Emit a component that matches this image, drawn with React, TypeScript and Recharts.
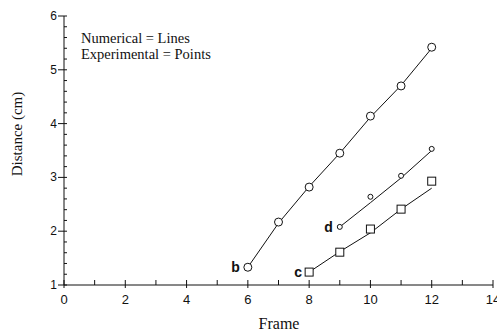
import { ComposedChart, Line, XAxis, YAxis, Label } from "recharts";

const frames = [6, 7, 8, 9, 10, 11, 12];

// curve b (circles)
const bExperimental = [1.33, 2.17, 2.82, 3.45, 4.14, 4.7, 5.42];
const bNumerical = [1.33, 2.15, 2.83, 3.45, 4.12, 4.71, 5.4];
// curve c (squares), starts at frame 8
const cExperimental = [null, null, 1.24, 1.61, 2.04, 2.41, 2.93];
const cNumerical = [null, null, 1.24, 1.62, 1.97, 2.41, 2.8];
// curve d (small circles), starts at frame 9
const dExperimental = [null, null, null, 2.08, 2.64, 3.03, 3.53];
const dNumerical = [null, null, null, 2.08, 2.53, 2.99, 3.5];

const xTicks = [0, 1, 2, 3, 4, 5, 6, 7, 8, 9, 10, 11, 12, 13, 14];
const xLabelled = [0, 2, 4, 6, 8, 10, 12, 14];
const yTicks = [
  1, 1.2, 1.4, 1.6, 1.8, 2, 2.2, 2.4, 2.6, 2.8, 3, 3.2, 3.4, 3.6, 3.8, 4, 4.2,
  4.4, 4.6, 4.8, 5, 5.2, 5.4, 5.6, 5.8, 6,
];

const data = frames.map((frame, i) => ({
  frame,
  bExp: bExperimental[i],
  bNum: bNumerical[i],
  cExp: cExperimental[i],
  cNum: cNumerical[i],
  dExp: dExperimental[i],
  dNum: dNumerical[i],
}));

const INK = "#111";
const sans = "'Liberation Sans', Arial, sans-serif";
const serif = "'Liberation Serif', 'Times New Roman', serif";

const isWhole = (v: number) => Math.abs(v - Math.round(v)) < 1e-6;

const LeftTick = ({ x, y, payload }: any) => {
  const v = payload.value;
  const major = isWhole(v);
  return (
    <g>
      <line x1={major ? x - 6 : x} x2={x + 3} y1={y} y2={y} stroke={INK} />
      {major && (
        <text x={x - 7} y={y} dy={4} textAnchor="end" fontFamily={sans} fontSize={12} fill={INK}>
          {Math.round(v)}
        </text>
      )}
    </g>
  );
};

const RightTick = ({ x, y }: any) => (
  <line x1={x - 3} x2={x} y1={y} y2={y} stroke={INK} />
);

const BottomTick = ({ x, y, payload }: any) => {
  const v = payload.value;
  const major = xLabelled.includes(v);
  return (
    <g>
      <line x1={x} x2={x} y1={y - 5} y2={major ? y + 3 : y} stroke={INK} />
      {major && (
        <text x={x} y={y} dy={19} textAnchor="middle" fontFamily={sans} fontSize={13} fill={INK}>
          {v}
        </text>
      )}
    </g>
  );
};

const TopTick = ({ x, y }: any) => (
  <line x1={x} x2={x} y1={y} y2={y + 4} stroke={INK} />
);

const SquareDot = ({ cx, cy, value }: any) => {
  if (value == null || cx == null || cy == null) return null;
  return <rect x={cx - 4} y={cy - 4} width={8} height={8} fill="#fff" stroke={INK} />;
};

const curveLabel = (letter: string, first: number, dx: number) => (props: any) => {
  const { x, y, index } = props;
  if (index !== first) return null;
  return (
    <text x={x - dx} y={y + 5} textAnchor="end" fontFamily={sans} fontWeight="bold" fontSize={14} fill={INK}>
      {letter}
    </text>
  );
};

export default function App() {
  return (
    <div style={{ position: "absolute", left: 0, top: 0, width: 497, height: 332, background: "#fff" }}>
      <ComposedChart width={497} height={332} data={data} margin={{ top: 16, right: 4, bottom: 12, left: 0 }}>
        <XAxis
          dataKey="frame"
          type="number"
          domain={[0, 14]}
          ticks={xTicks}
          interval={0}
          height={35}
          tickSize={0}
          tickMargin={0}
          tick={<BottomTick />}
          stroke={INK}
        >
          <Label
            content={() => (
              <text x={279} y={329} textAnchor="middle" fontFamily={serif} fontSize={16} fill={INK}>
                Frame
              </text>
            )}
          />
        </XAxis>
        <XAxis
          xAxisId="top"
          orientation="top"
          dataKey="frame"
          type="number"
          domain={[0, 14]}
          ticks={xTicks}
          interval={0}
          height={0}
          tickSize={0}
          tickMargin={0}
          tick={<TopTick />}
          stroke={INK}
        />
        <YAxis
          type="number"
          domain={[1, 6]}
          ticks={yTicks}
          interval={0}
          width={64}
          tickSize={0}
          tickMargin={0}
          tick={<LeftTick />}
          stroke={INK}
        >
          <Label
            content={() => (
              <text
                x={22}
                y={134}
                transform="rotate(-90 22 134)"
                textAnchor="middle"
                fontFamily={serif}
                fontSize={15}
                fill={INK}
              >
                Distance (cm)
              </text>
            )}
          />
        </YAxis>
        <YAxis
          yAxisId="right"
          orientation="right"
          type="number"
          domain={[1, 6]}
          ticks={yTicks}
          interval={0}
          width={0}
          tickSize={0}
          tickMargin={0}
          tick={<RightTick />}
          stroke={INK}
        />

        <Line dataKey="bNum" type="linear" stroke={INK} strokeWidth={1} dot={false} isAnimationActive={false} />
        <Line dataKey="cNum" type="linear" stroke={INK} strokeWidth={1} dot={false} isAnimationActive={false} />
        <Line dataKey="dNum" type="linear" stroke={INK} strokeWidth={1} dot={false} isAnimationActive={false} />

        <Line
          dataKey="bExp"
          stroke="none"
          dot={{ r: 4, fill: "#fff", stroke: INK, strokeWidth: 1 }}
          label={curveLabel("b", 0, 8)}
          isAnimationActive={false}
        />
        <Line
          dataKey="cExp"
          stroke="none"
          dot={<SquareDot />}
          label={curveLabel("c", 2, 7)}
          isAnimationActive={false}
        />
        <Line
          dataKey="dExp"
          stroke="none"
          dot={{ r: 2.5, fill: "#fff", stroke: INK, strokeWidth: 1 }}
          label={curveLabel("d", 3, 7)}
          isAnimationActive={false}
        />
      </ComposedChart>
      <div
        style={{
          position: "absolute",
          left: 81,
          top: 30,
          fontFamily: serif,
          fontSize: 14.5,
          lineHeight: "16px",
          color: INK,
          whiteSpace: "nowrap",
        }}
      >
        <div>Numerical = Lines</div>
        <div>Experimental = Points</div>
      </div>
    </div>
  );
}
